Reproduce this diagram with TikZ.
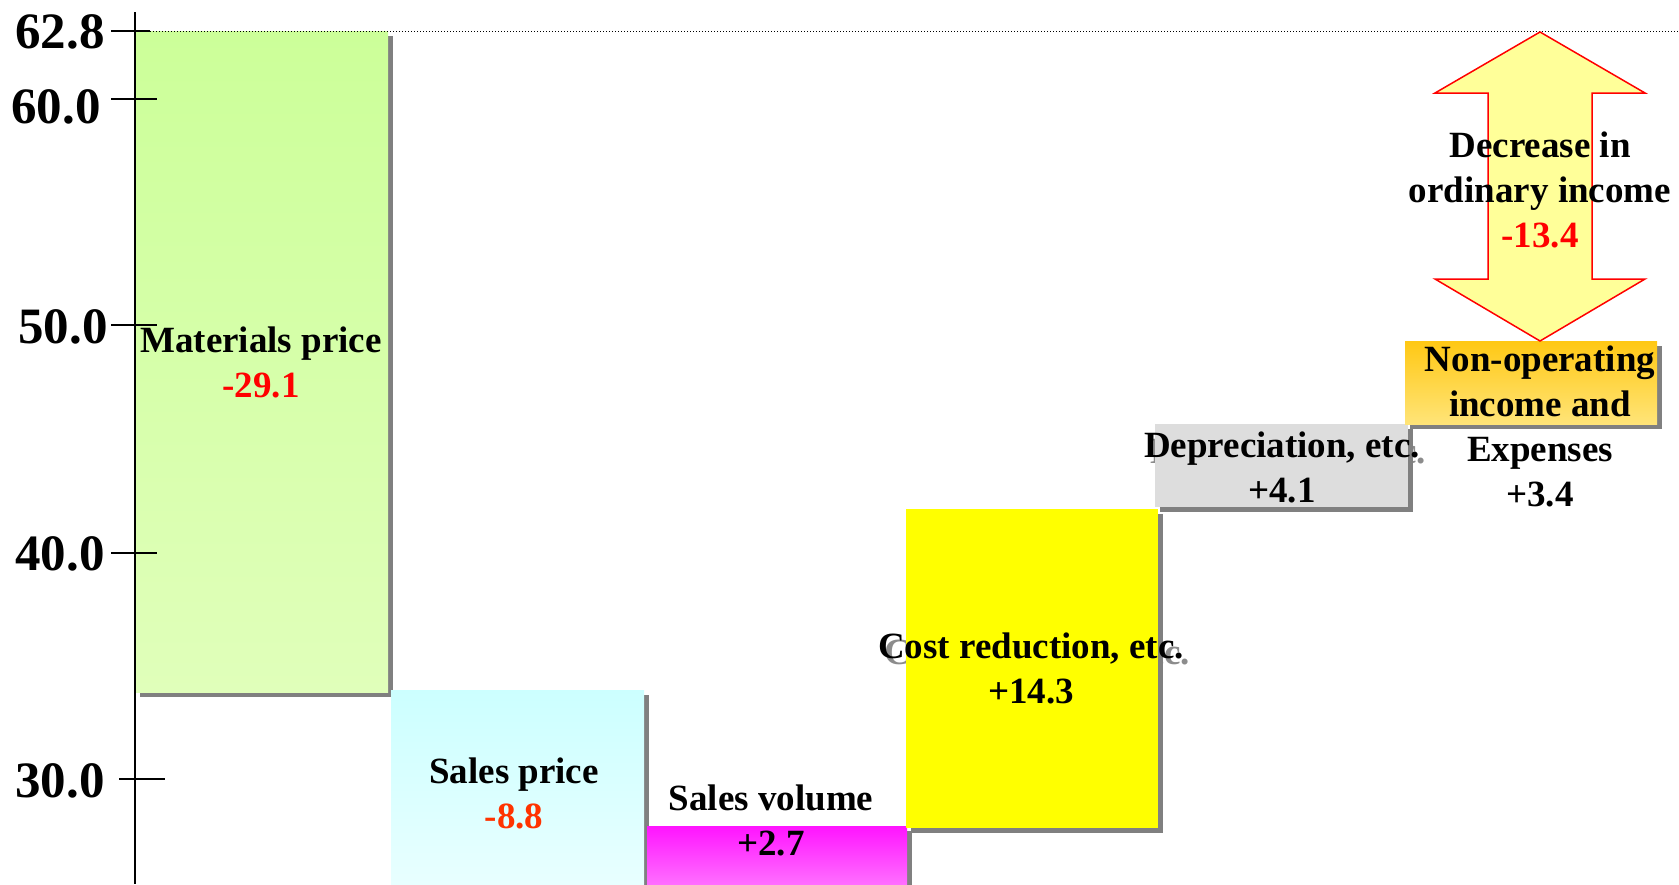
\documentclass[tikz,border=0pt]{standalone}
\usepackage{fontspec}
\setmainfont{Liberation Serif}
\usetikzlibrary{shadows}
\definecolor{matTop}{RGB}{204,255,153}
\definecolor{matBot}{RGB}{224,255,186}
\definecolor{spTop}{RGB}{204,255,255}
\definecolor{spBot}{RGB}{232,255,255}
\definecolor{svTop}{RGB}{255,20,255}
\definecolor{svBot}{RGB}{255,110,255}
\definecolor{crFill}{RGB}{255,255,0}
\definecolor{depFill}{RGB}{221,221,221}
\definecolor{noTop}{RGB}{255,200,20}
\definecolor{noBot}{RGB}{255,228,120}
\definecolor{arrFill}{RGB}{255,255,153}
\definecolor{minusRed}{RGB}{255,0,0}
\definecolor{minusOrange}{RGB}{255,51,0}
\tikzset{
    bar/.style={
    drop shadow={shadow xshift=2.5pt,shadow yshift=-2.5pt,fill=black!50,opacity=1}
    },
    lbl/.style={
    font=\fontsize{18.5}{22.5}\selectfont\bfseries,align=center,inner sep=0pt,anchor=base
    },
    ghost/.style={
    lbl,text=black!45
    },
    axlbl/.style={
    font=\fontsize{25.5}{30}\selectfont\bfseries,inner sep=0pt,anchor=base east
    },
    tick/.style={
    line width=0.75pt
    },
    bigarrow/.style={
    fill=arrFill,draw=red,line width=0.75pt,line join=miter
    },
}
\begin{document}
\begin{tikzpicture}[x=0.5pt,y=-0.5pt]
   \useasboundingbox (0,0) rectangle (1679,884);
   \clip (0,0) rectangle (1679,884);
   \path[bar,top color=matTop,bottom color=matBot] (135,31) rectangle (388,692);
   \path[bar,top color=spTop,bottom color=spBot] (391,690) rectangle (644,884);
   \path[bar,top color=svTop,bottom color=svBot] (647,826) rectangle (907,884);
   \node[ghost] (crghost) at (1037,709) {Cost reduction, etc.\\+14.3};
   \path[bar,fill=crFill] (906,509) rectangle (1158,828);
   \node[ghost] (depghost) at (1288,508) {Depreciation, etc.\\+4.1};
   \path[bar,fill=depFill] (1155,424) rectangle (1408,507);
   \path[bar,top color=noTop,bottom color=noBot] (1405,341) rectangle (1657,424);

   \draw[line width=1pt] (135,12) -- (135,884);
   \draw[tick] (111,31) -- (150,31);
   \draw[tick] (111,99) -- (157,99);
   \draw[tick] (111,325) -- (157,325);
   \draw[tick] (111,553) -- (157,553);
   \draw[tick] (119,779) -- (165,779);
   \draw[line width=0.5pt,dash pattern=on 0.5pt off 1pt] (150,31) -- (1679,31);
   \node[axlbl] (y628) at (105,48) {62.8};
   \node[axlbl] (y600) at (101,123) {60.0};
   \node[axlbl] (y500) at (108,343) {50.0};
   \node[axlbl] (y400) at (105,570) {40.0};
   \node[axlbl] (y300) at (105,797) {30.0};

   \draw[bigarrow] (1540,32) -- (1645,93) -- (1592,93) -- (1592,279) -- (1645,279)
     -- (1540,341) -- (1435,279) -- (1488,279) -- (1488,93) -- (1435,93) -- cycle;

   \node[lbl] (matlbl) at (261,397) {Materials price\\\textcolor{minusRed}{-29.1}};
   \node[lbl] (splbl) at (514,828) {Sales price\\\textcolor{minusOrange}{-8.8}};
   \node[lbl] (svlbl) at (771,855) {Sales volume\\+2.7};
   \node[lbl] (crlbl) at (1031,703) {Cost reduction, etc.\\+14.3};
   \node[lbl] (deplbl) at (1282,502) {Depreciation, etc.\\+4.1};
   \node[lbl] (nonoplbl) at (1540,506) {Non-operating\\income and\\Expenses\\+3.4};
   \node[lbl] (declbl) at (1540,247) {Decrease in\\ordinary income\\\textcolor{minusRed}{-13.4}};
\end{tikzpicture}
\end{document}
